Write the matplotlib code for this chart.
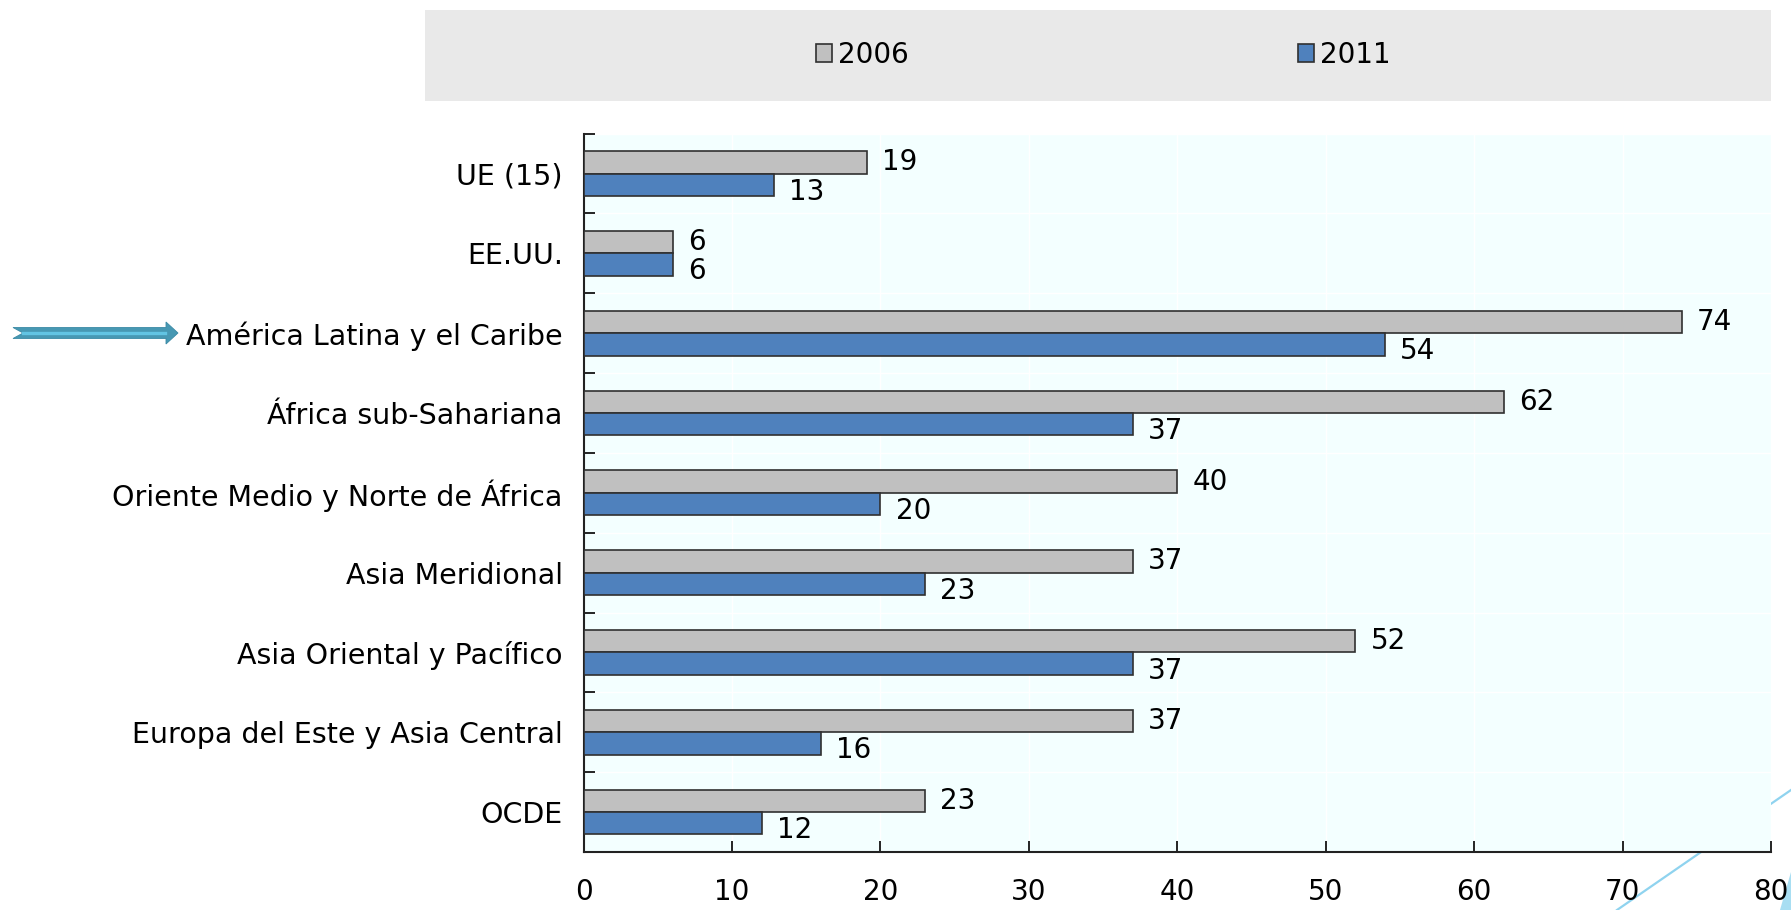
import matplotlib.pyplot as plt
import numpy as np
from matplotlib.patches import Rectangle, Polygon
from matplotlib.lines import Line2D

# Chart data
categories = ["UE (15)", "EE.UU.", "América Latina y el Caribe", "África sub-Sahariana",
              "Oriente Medio y Norte de África", "Asia Meridional",
              "Asia Oriental y Pacífico", "Europa del Este y Asia Central", "OCDE"]
values_2006 = [19.1, 6, 74, 62, 40, 37, 52, 37, 23]
values_2011 = [12.8, 6, 54, 37, 20, 23, 37, 16, 12]
series_names = ["2006", "2011"]
x_ticks = [0, 10, 20, 30, 40, 50, 60, 70, 80]

W, H = 1791, 910
plt.rcParams['font.family'] = ['DejaVu Sans']
fig = plt.figure(figsize=(W / 100, H / 100), dpi=100)
fig.patch.set_facecolor("white")


def px(x, y):
    """pixel (from top-left) -> figure fraction"""
    return x / W, 1 - y / H


# decorative slide line behind the plot area
x0, y0 = px(1617, 910)
x1, y1 = px(1791, 790)
fig.add_artist(Line2D([x0, x1], [y0, y1], color="#8fd3ef", lw=1.6, zorder=-2))
fig.add_artist(Polygon([px(1780, 910), px(1791, 872), px(1791, 910)],
                       closed=True, color="#a8def2", zorder=-2, lw=0))

ax = fig.add_axes([583.6 / W, 1 - 852 / H, (1771 - 583.6) / W, (852 - 133.6) / H])
ax.set_facecolor("#f3ffff")

n = len(categories)
centers = np.arange(n) + 0.5
h = 0.28
gray, blue = "#c0c0c0", "#4f81bd"
b1 = ax.barh(centers - h / 2, values_2006, height=h, color=gray, edgecolor="#303030",
             lw=1.2, label=series_names[0], zorder=3)
b2 = ax.barh(centers + h / 2, values_2011, height=h, color=blue, edgecolor="#303030",
             lw=1.2, label=series_names[1], zorder=3)

for yc, v in zip(centers, values_2006):
    ax.annotate(f"{v:.0f}", (v, yc - h / 2), xytext=(11, 0), textcoords="offset points",
                ha="left", va="center", fontsize=20, zorder=4)
for yc, v in zip(centers, values_2011):
    ax.annotate(f"{v:.0f}", (v, yc + h / 2), xytext=(11, -5), textcoords="offset points",
                ha="left", va="center", fontsize=20, zorder=4)

ax.set_xlim(0, 80)
ax.set_ylim(n, 0)
ax.set_xticks(x_ticks)
ax.set_yticks(np.arange(n + 1))
ax.set_yticklabels([])
ax.set_yticks(centers, categories, minor=True)
ax.tick_params(axis="y", which="major", direction="in", length=8, width=1.2)
ax.tick_params(axis="y", which="minor", length=0, pad=15, labelsize=20.5)
ax.tick_params(axis="x", direction="in", length=8, width=1.2, pad=19, labelsize=20)
ax.grid(True, which="major", color="white", lw=1, zorder=0)
for s in ["top", "right"]:
    ax.spines[s].set_visible(False)
for s in ["left", "bottom"]:
    ax.spines[s].set_linewidth(1.5)
    ax.spines[s].set_color("#222222")

# legend band
lx0, ly0 = px(425, 100.5)
lx1, ly1 = px(1771, 10)
fig.add_artist(Rectangle((lx0, ly0), lx1 - lx0, ly1 - ly0, transform=fig.transFigure,
                         facecolor="#e9e9e9", edgecolor="none", zorder=0))
cx, cy = px(1103, 55)
fig.legend([b1, b2], series_names, loc="center", bbox_to_anchor=(cx, cy), ncol=2,
           frameon=False, fontsize=20, handlelength=0.6, handleheight=0.6,
           handletextpad=0.2, columnspacing=14.0)

# arrow pointing at América Latina
ay = 333
fig.add_artist(Polygon([px(13, ay - 5.5), px(166, ay - 5.5), px(166, ay - 11), px(178, ay),
                        px(166, ay + 11), px(166, ay + 5.5), px(13, ay + 5.5), px(23, ay)],
                       closed=True, facecolor="#4798b3", edgecolor="#3a8aa5", lw=0.6))
fig.add_artist(Line2D([px(23, 0)[0], px(165, 0)[0]], [px(0, ay)[1]] * 2,
                      color="#62c4e3", lw=2.4))

fig.savefig("out.png", dpi=100)
